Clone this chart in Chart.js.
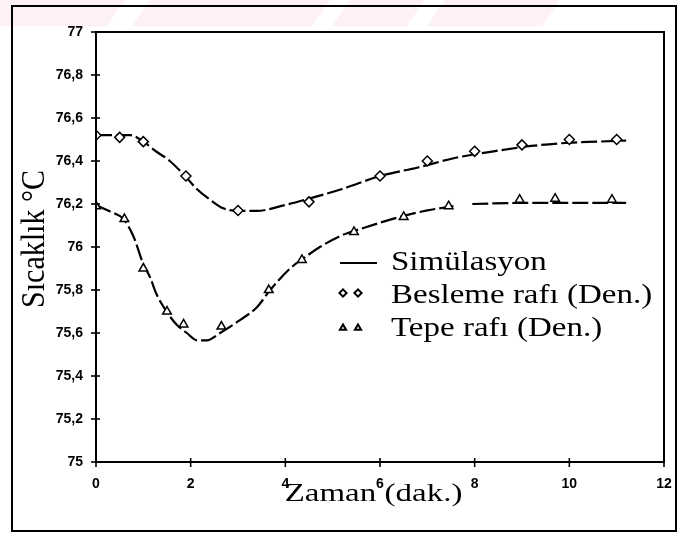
<!DOCTYPE html>
<html>
<head>
<meta charset="utf-8">
<script src="https://cdn.jsdelivr.net/npm/chart.js@4.4.1/dist/chart.umd.min.js"></script>
<style>
  html, body { margin: 0; padding: 0; background: #fff; }
  #wrap { position: relative; width: 678px; height: 535px; }
</style>
</head>
<body>
<div id="wrap"><canvas id="c" width="678" height="535"></canvas></div>
<script>
// Measured temperatures (time in minutes, temperature in °C)
const beslemeTime = [0, 0.5, 1, 1.9, 3, 4.5, 6, 7, 8, 9, 10, 11];
const beslemeTemp = [76.52, 76.51, 76.49, 76.33, 76.17, 76.21, 76.33, 76.40, 76.445, 76.475, 76.50, 76.50];

const tepeTime = [0, 0.6, 1, 1.5, 1.85, 2.65, 3.65, 4.35, 5.45, 6.5, 7.45, 8.95, 9.7, 10.9];
const tepeTemp = [76.19, 76.13, 75.90, 75.70, 75.64, 75.63, 75.80, 75.94, 76.07, 76.14, 76.19, 76.22, 76.225, 76.22];

// Simulated temperature profiles
const simBeslemeTime = [0, 0.4, 0.72, 1.0, 1.28, 1.56, 1.88, 2.13, 2.41, 2.69, 3.0, 3.39, 3.99, 4.5, 5.2, 6, 6.8, 7.6, 8.4, 9.2, 10, 10.6, 11.2];
const simBeslemeTemp = [76.52, 76.52, 76.52, 76.49, 76.443, 76.40, 76.33, 76.27, 76.22, 76.18, 76.168, 76.168, 76.195, 76.225, 76.27, 76.33, 76.37, 76.415, 76.445, 76.47, 76.485, 76.49, 76.495];

const simTepeTime = [0, 0.3, 0.58, 0.79, 1.0, 1.14, 1.28, 1.49, 1.7, 1.92, 2.13, 2.34, 2.62, 3.04, 3.4, 3.68, 4.1, 4.4, 4.73, 5.2, 5.6, 6.5, 7.0, 7.55, 7.75, 7.95, 9, 10, 11.2];
const simTepeTemp = [76.195, 76.165, 76.13, 76.05, 75.92, 75.86, 75.78, 75.70, 75.64, 75.60, 75.566, 75.566, 75.60, 75.66, 75.72, 75.80, 75.90, 75.95, 76.0, 76.055, 76.085, 76.145, 76.17, 76.19, null, 76.2, 76.205, 76.205, 76.205];

// Axis tick labels
const xTickLabels = ['0', '2', '4', '6', '8', '10', '12'];
const yTickLabels = ['75', '75,2', '75,4', '75,6', '75,8', '76', '76,2', '76,4', '76,6', '76,8', '77'];

// Legend entries
const legendLabels = ['Simülasyon', 'Besleme rafı (Den.)', 'Tepe rafı (Den.)'];

const pts = (xs, ys) => xs.map((x, i) => ({ x: x, y: ys[i] }));

const serif = '"Liberation Serif", "Times New Roman", serif';
const sans = '"Liberation Sans", Arial, sans-serif';

function drawScaledText(ctx, text, x, y, font, sx, sy, align) {
  ctx.save();
  ctx.translate(x, y);
  ctx.scale(sx, sy);
  ctx.font = font;
  ctx.textAlign = align || 'left';
  ctx.textBaseline = 'alphabetic';
  ctx.fillStyle = '#000';
  ctx.fillText(text, 0, 0);
  ctx.restore();
}

const decorPlugin = {
  id: 'decor',
  beforeDraw(chart) {
    const ctx = chart.ctx;
    ctx.save();
    ctx.fillStyle = '#fff';
    ctx.fillRect(0, 0, chart.width, chart.height);
    // faint pink banner stripes along the top edge
    ctx.fillStyle = 'rgba(240, 170, 180, 0.16)';
    const bands = [[0, 125], [150, 330], [350, 425], [445, 560]];
    bands.forEach(([a, b]) => {
      ctx.beginPath();
      ctx.moveTo(a, 0);
      ctx.lineTo(b, 0);
      ctx.lineTo(b - 18, 26);
      ctx.lineTo(Math.max(a - 18, 0), 26);
      ctx.closePath();
      ctx.fill();
    });
    ctx.restore();
  },
  afterDraw(chart) {
    const ctx = chart.ctx;
    const area = chart.chartArea;
    const xs = chart.scales.x, ys = chart.scales.y;
    ctx.save();
    ctx.strokeStyle = '#000';

    // outer frame
    ctx.lineWidth = 2;
    ctx.strokeRect(12, 6, 664, 525);

    // plot frame
    ctx.lineWidth = 2;
    ctx.strokeRect(area.left, area.top, area.right - area.left, area.bottom - area.top);

    // tick marks crossing the axes
    ctx.lineWidth = 1.6;
    xs.ticks.forEach(t => {
      const px = xs.getPixelForValue(t.value);
      ctx.beginPath();
      ctx.moveTo(px, area.bottom - 4);
      ctx.lineTo(px, area.bottom + 5);
      ctx.stroke();
    });
    ys.ticks.forEach(t => {
      const py = ys.getPixelForValue(t.value);
      ctx.beginPath();
      ctx.moveTo(area.left - 5, py);
      ctx.lineTo(area.left + 4, py);
      ctx.stroke();
    });

    // axis titles
    ctx.save();
    ctx.translate(43.5, 239);
    ctx.rotate(-Math.PI / 2);
    ctx.scale(0.91, 1);
    ctx.font = '33px ' + serif;
    ctx.textAlign = 'center';
    ctx.textBaseline = 'alphabetic';
    ctx.fillStyle = '#000';
    ctx.fillText('Sıcaklık °C', 0, 0);
    ctx.restore();

    drawScaledText(ctx, 'Zaman (dak.)', 373.5, 501, '33px ' + serif, 1, 0.78, 'center');

    // legend
    const lx = 391;
    ctx.lineWidth = 2;
    ctx.beginPath();
    ctx.moveTo(340, 263);
    ctx.lineTo(377, 263);
    ctx.stroke();
    drawScaledText(ctx, legendLabels[0], lx, 269.5, '33px ' + serif, 1, 0.82);

    const d1 = chart.data.datasets[0], d2 = chart.data.datasets[1];
    [343, 358].forEach(px => {
      ctx.fillStyle = '#fff';
      ctx.strokeStyle = '#000';
      Chart.helpers.drawPoint(ctx, { pointStyle: d1.pointStyle, radius: 3.6, borderWidth: 1.4 }, px, 293);
    });
    drawScaledText(ctx, legendLabels[1], lx, 302.5, '33px ' + serif, 1, 0.82);
    [343, 358].forEach(px => {
      ctx.fillStyle = '#fff';
      ctx.strokeStyle = '#000';
      Chart.helpers.drawPoint(ctx, { pointStyle: d2.pointStyle, radius: 3.6, borderWidth: 1.4 }, px, 328);
    });
    drawScaledText(ctx, legendLabels[2], lx, 336, '33px ' + serif, 1, 0.82);

    ctx.restore();
  }
};

const lineStyle = {
  showLine: true,
  pointRadius: 0,
  borderColor: '#000',
  borderWidth: 2.2,
  borderDash: [16, 4],
  cubicInterpolationMode: 'monotone',
  spanGaps: false,
  fill: false,
  order: 2
};

const markerStyle = {
  showLine: false,
  pointRadius: 5,
  pointBorderWidth: 1.5,
  borderColor: '#000',
  pointBorderColor: '#000',
  pointBackgroundColor: '#fff',
  backgroundColor: '#fff',
  order: 0
};

new Chart(document.getElementById('c'), {
  type: 'scatter',
  data: {
    datasets: [
      Object.assign({ label: legendLabels[1], data: pts(beslemeTime, beslemeTemp), pointStyle: 'rectRot' }, markerStyle),
      Object.assign({ label: legendLabels[2], data: pts(tepeTime, tepeTemp), pointStyle: 'triangle' }, markerStyle),
      Object.assign({ label: legendLabels[0], data: pts(simBeslemeTime, simBeslemeTemp) }, lineStyle),
      Object.assign({ label: legendLabels[0], data: pts(simTepeTime, simTepeTemp) }, lineStyle)
    ]
  },
  options: {
    responsive: false,
    animation: false,
    devicePixelRatio: 1,
    layout: { autoPadding: false, padding: { left: 0, top: 32, right: 14, bottom: 0 } },
    plugins: { legend: { display: false }, tooltip: { enabled: false } },
    scales: {
      x: {
        type: 'linear',
        min: 0, max: 12,
        grid: { display: false, drawTicks: false },
        border: { display: false },
        ticks: {
          stepSize: 2,
          padding: 14,
          color: '#000',
          font: { family: sans, size: 14, weight: 'bold' },
          callback: (v, i) => xTickLabels[i]
        },
        afterFit: s => { s.height = 73; s.paddingLeft = 0; s.paddingRight = 0; }
      },
      y: {
        type: 'linear',
        min: 75, max: 77,
        grid: { display: false, drawTicks: false },
        border: { display: false },
        ticks: {
          stepSize: 0.2,
          padding: 13,
          color: '#000',
          font: { family: sans, size: 14, weight: 'bold' },
          callback: (v, i) => yTickLabels[i]
        },
        afterFit: s => { s.width = 96; s.paddingTop = 0; s.paddingBottom = 0; }
      }
    }
  },
  plugins: [decorPlugin]
});
</script>
</body>
</html>
